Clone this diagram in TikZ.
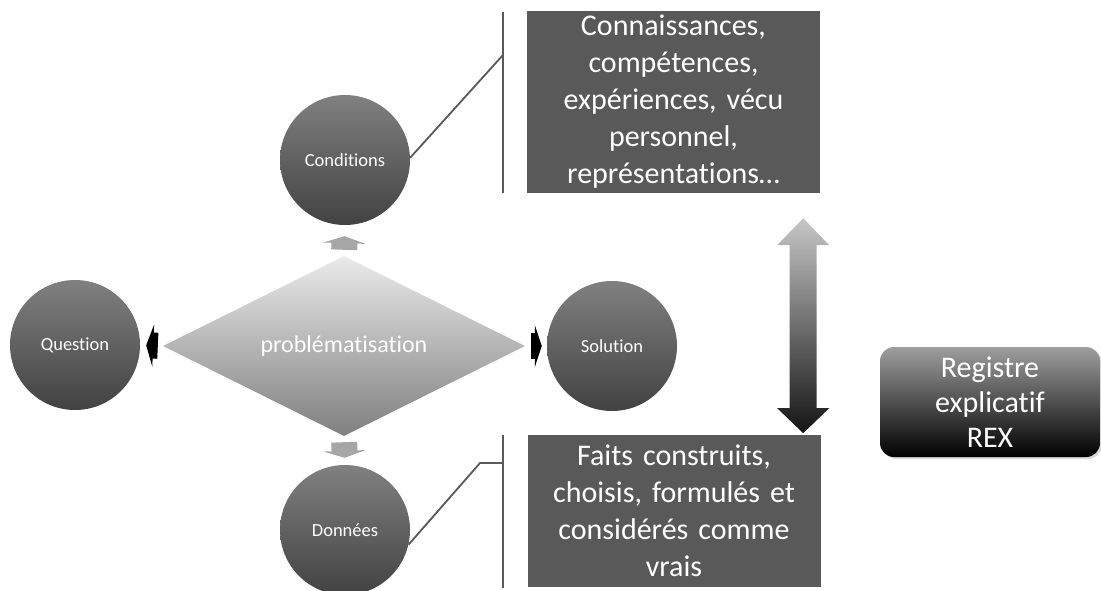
\documentclass[tikz,border=0pt]{standalone}
\usepackage{fontspec}
\setmainfont{Carlito}[Ligatures=NoCommon]
\usetikzlibrary{arrows.meta,positioning,shapes,calc,shadows}

\definecolor{cadregris}{HTML}{595959}
\definecolor{rondhaut}{HTML}{808080}
\definecolor{rondbas}{HTML}{424242}
\definecolor{flechegris}{HTML}{A6A6A6}

\begin{document}
\begin{tikzpicture}[x=1pt,y=-1pt,font=\fontsize{18.5}{22}\selectfont,
    rond/.style={circle,minimum size=130pt,inner sep=0pt,top color=rondhaut,bottom color=rondbas,text=white},
    cadre/.style={rectangle,fill=cadregris,text=white,minimum width=293pt,text width=285pt,align=center,inner sep=0pt,font=\fontsize{30}{37}\selectfont},
    trait/.style={draw=cadregris,line width=1.8pt},
    fleche/.style={line width=26pt,-{Triangle[width=42pt,length=7pt]}}]
  \useasboundingbox (0,0) rectangle (1101,590);
  \node[rond] (question) at (75,345) {Question};
  \node[diamond,aspect=2,minimum width=362pt,minimum height=180pt,inner sep=0pt,top color=black!8,bottom color=black!50,text=white,font=\fontsize{24}{28}\selectfont] (probl) at (344,346) {problématisation};
  \node[rond] (solution) at (612,346) {Solution};
  \node[rond] (conditions) at (345,160) {Conditions};
  \node[rond] (donnees) at (345,530) {Données};
  \node[cadre,minimum height=182pt] (connaiss) at (673.5,102) {Connaissances,\\compétences,\\expériences, vécu\\personnel,\\représentations…};
  \node[cadre,minimum height=152pt] (faits) at (674,511) {Faits construits,\\choisis, formulés et\\considérés comme\\vrais};
  \node[rectangle,rounded corners=14pt,minimum width=220pt,minimum height=110pt,top color=black!38,bottom color=black,text=white,align=center,font=\fontsize{30}{35}\selectfont,drop shadow={opacity=0.3,shadow xshift=2pt,shadow yshift=-2pt}] (rex) at (990,402) {Registre\\explicatif\\REX};
  % petites fleches autour du losange
  \draw[fleche,black,shorten <=5pt,shorten >=6pt] (probl.west) -- (question.east);
  \draw[fleche,black,shorten <=6pt,shorten >=5pt] (probl.east) -- (solution.west);
  \draw[fleche,flechegris,shorten <=6pt,shorten >=11pt] (probl.north) -- (conditions.south);
  \draw[fleche,flechegris,shorten <=6pt,shorten >=7pt] (probl.south) -- (donnees.north);
  % accolades
  \coordinate (c1) at (503,55);
  \coordinate (c1haut) at (503,12);
  \coordinate (c1bas) at (503,193);
  \draw[trait] (conditions.2) -- (c1);
  \draw[trait] (c1haut) -- (c1bas);
  \coordinate (c2) at (480,463);
  \coordinate (c2d) at (503,463);
  \coordinate (c2haut) at (503,435);
  \coordinate (c2bas) at (503,588);
  \draw[trait] (donnees.-13) -- (c2) -- (c2d);
  \draw[trait] (c2haut) -- (c2bas);
  % double fleche
  \coordinate (dtop) at ($(connaiss.south east)+(-17,25)$);
  \shade[top color=black!22,bottom color=black!92] (dtop) -- +(26,27) -- +(13.5,27) -- +(13.5,190) -- +(26,190) -- +(0,215) -- +(-26,190) -- +(-13.5,190) -- +(-13.5,27) -- +(-26,27) -- cycle;
\end{tikzpicture}
\end{document}
